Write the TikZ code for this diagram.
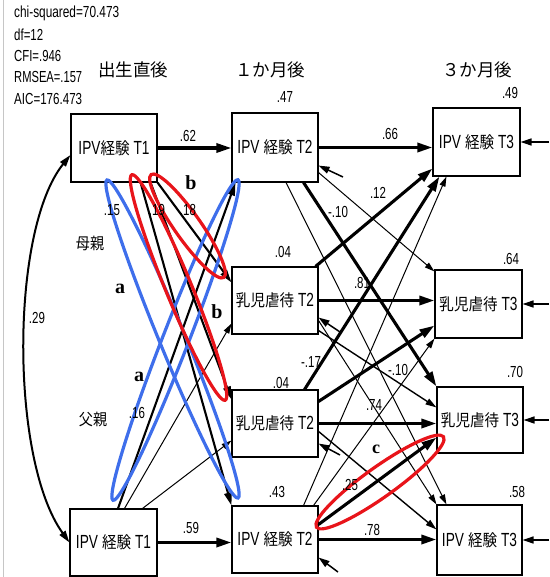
\documentclass[tikz,border=0pt]{standalone}
\usepackage{fontspec}
\setmainfont{Liberation Sans}
\newfontfamily\lat[FakeStretch=0.72]{Liberation Sans}
\newfontfamily\latS{Liberation Sans}
\newfontfamily\cjk[FakeStretch=0.88]{Noto Sans CJK JP}
\newfontfamily\cjkH{Noto Sans CJK JP}
\newfontfamily\ser{Liberation Serif}
\usetikzlibrary{arrows.meta,calc}
\definecolor{blueE}{RGB}{62,110,235}
\definecolor{redE}{RGB}{232,20,26}
\newcommand{\La}[1]{{\lat\fontsize{19}{22}\selectfont #1}}
\newcommand{\Ja}[1]{{\cjk\fontsize{16.5}{20}\selectfont #1}}
\newcommand{\St}[2]{\resizebox{#1}{\height}{#2}}
\begin{document}
\begin{tikzpicture}[x=1pt,y=-1pt,
  box/.style={draw, line width=1.1pt, minimum width=86pt, minimum height=68pt, inner sep=0pt},
  thk/.style={line width=3.1pt, -{Triangle[length=15pt,width=9pt]}},
  med/.style={line width=2.1pt, -{Triangle[length=13pt,width=7.5pt]}},
  mid/.style={line width=1.4pt, -{Triangle[length=11pt,width=6.5pt]}},
  thn/.style={line width=1pt, -{Triangle[length=10pt,width=6pt]}},
  res/.style={line width=1.5pt, -{Triangle[length=11pt,width=7pt]}},
  num/.style={font={\lat\fontsize{16}{18}\selectfont}, inner sep=0pt},
  stat/.style={font={\latS\fontsize{16}{18}\selectfont}, inner sep=0pt, anchor=west},
  head/.style={font={\cjkH\fontsize{17.5}{20}\selectfont}, inner sep=0pt},
  par/.style={font={\cjk\fontsize{16}{20}\selectfont}, inner sep=0pt},
  let/.style={font={\ser\bfseries\fontsize{20}{22}\selectfont}, inner sep=0pt},
  ell/.style={line width=3.2pt}
]
\useasboundingbox (0,0) rectangle (549,577);
\draw[gray!45, line width=0.8pt] (3,0) -- (3,577);

% stats
\node[stat] (s1) at (14,13) {\St{105pt}{chi-squared=70.473}};
\node[stat] (s2) at (14,35) {\St{29pt}{df=12}};
\node[stat] (s3) at (14,56) {\St{47pt}{CFI=.946}};
\node[stat] (s4) at (14,77) {\St{68pt}{RMSEA=.157}};
\node[stat] (s5) at (14,99) {\St{68pt}{AIC=176.473}};

% headers
\node[head] (h1) at (133,70) {出生直後};
\node[head] (h2) at (270,70) {１か月後};
\node[head] (h3) at (477,70) {３か月後};

% boxes
\node[box] (A1) at (114,148) {\La{IPV}\Ja{経験}\hspace{4pt}\La{T1}};
\node[box, minimum width=87pt, minimum height=67pt] (B1) at (113.5,542.5) {\La{IPV}\hspace{4pt}\Ja{経験}\hspace{4pt}\La{T1}};
\node[box, minimum height=69pt] (A2) at (275,147.5) {\La{IPV}\hspace{4pt}\Ja{経験}\hspace{4pt}\La{T2}};
\node[box, minimum height=67pt] (C2) at (275,300.5) {\Ja{乳児虐待}\hspace{4pt}\La{T2}};
\node[box, minimum height=67pt] (D2) at (275,423.5) {\Ja{乳児虐待}\hspace{4pt}\La{T2}};
\node[box, minimum height=67pt] (B2) at (275,539.5) {\La{IPV}\hspace{4pt}\Ja{経験}\hspace{4pt}\La{T2}};
\node[box, minimum width=87pt] (A3) at (476.5,142) {\La{IPV}\hspace{4pt}\Ja{経験}\hspace{4pt}\La{T3}};
\node[box, minimum width=87pt] (C3) at (478.5,304) {\Ja{乳児虐待}\hspace{4pt}\La{T3}};
\node[box, minimum height=66pt] (D3) at (480,420) {\Ja{乳児虐待}\hspace{4pt}\La{T3}};
\node[box, minimum width=85pt, minimum height=70pt] (B3) at (479.5,540) {\La{IPV}\hspace{4pt}\Ja{経験}\hspace{4pt}\La{T3}};

% T1 -> T2
\draw[thk] (A1.east) -- (A1.east -| A2.west);
\draw[thk] (B1.east) -- (B1.east -| B2.west);
\draw[med] (A1.south east) -- ([yshift=-16pt]C2.north west);
\draw[med] ([xshift=-7pt]A1.south east) -- ([yshift=-10pt]D2.north west);
\draw[med] ([xshift=-17pt]A1.south east) -- (B2.north west);
\draw[med] ([xshift=4.5pt]B1.north) -- ([xshift=4pt]A2.south west);
\draw[thn] ([xshift=11pt]B1.north) -- ([yshift=11pt]C2.south west);
\draw[thn] ([xshift=29pt]B1.north) -- ([yshift=17pt]D2.south west);

% double-headed covariance
\draw[line width=2pt, {Triangle[length=12pt,width=7pt]}-{Triangle[length=12pt,width=7pt]}]
  (B1.west) .. controls (10,460) and (10,230) .. ([yshift=-7pt]A1.west);

% T2 -> T3
\draw[thk] (A2.east) -- (A2.east -| A3.west);
\draw[thn] ([yshift=10pt]A2.south east) -- ([yshift=-2pt]C3.north west);
\draw[thk] ([xshift=-15pt]A2.south east) -- (D3.north west);
\draw[thn] ([xshift=11pt]A2.south) -- ([xshift=10pt]B3.north west);

\draw[thk] ([xshift=-3pt]C2.north east) -- ([yshift=8pt]A3.south west);
\draw[thk] (C2.east) -- (C2.east -| C3.west);
\draw[mid] ([yshift=4pt]C2.south east) -- ([yshift=-21pt]D3.north west);
\draw[thn] ([yshift=14pt]C2.south east) -- (B3.north west);

\draw[thk] ([xshift=-14pt]D2.north east) -- ([xshift=7pt]A3.south west);
\draw[thk] ([yshift=-12pt]D2.north east) -- ([yshift=13pt]C3.south west);
\draw[thk] (D2.east) -- (D2.east -| D3.west);
\draw[mid] ([yshift=-42pt]D2.north east) -- ([yshift=-25pt]B3.north west);

\draw[thn] ([xshift=-15pt]B2.north east) -- ([xshift=14pt]A3.south west);
\draw[thn] ([xshift=-5pt]B2.north east) -- (C3.south west);
\draw[thk] ([yshift=-19pt]B2.north east) -- ([yshift=16pt]D3.south west);
\draw[thk] (B2.east) -- (B2.east -| B3.west);

% residuals
\coordinate (rA3) at (549,142);
\coordinate (rC3) at (549,304);
\coordinate (rD3) at (549,420);
\coordinate (rB3) at (549,540);
\draw[res] (rA3) -- (A3.east);
\draw[res] (rC3) -- (C3.east);
\draw[res] (rD3) -- (D3.east);
\draw[res] (rB3) -- (B3.east);
\coordinate (rA2) at (343,177);
\coordinate (rC2) at (340,332);
\coordinate (rD2) at (340,455);
\coordinate (rB2) at (338,572);
\draw[res] (rA2) -- ([yshift=17pt]A2.south east);
\draw[res] (rC2) -- ([yshift=17pt]C2.south east);
\draw[res] (rD2) -- ([yshift=14pt]D2.south east);
\draw[res] (rB2) -- ([yshift=16pt]B2.south east);

% ellipses
\draw[blueE, ell, shift={(172.5,339)}, rotate=-67.6] (0,0) ellipse [x radius=172, y radius=13];
\draw[blueE, ell, shift={(175.5,340)}, rotate=68.7] (0,0) ellipse [x radius=172, y radius=13];
\draw[redE, ell, shift={(187.5,226)}, rotate=-54.8] (0,0) ellipse [x radius=63, y radius=13];
\draw[redE, ell, shift={(178.5,287.5)}, rotate=-67.5] (0,0) ellipse [x radius=122, y radius=13];
\draw[redE, ell, shift={(380,482)}, rotate=35.5] (0,0) ellipse [x radius=78, y radius=15];

% numbers
\node[num] (n47) at (285,97) {.47};
\node[num] (n04a) at (283,252) {.04};
\node[num] (n04b) at (281,383) {.04};
\node[num] (n43) at (277,492) {.43};
\node[num] (n49) at (510,93) {.49};
\node[num] (n64) at (511,259) {.64};
\node[num] (n70) at (515,372) {.70};
\node[num] (n58) at (517,492) {.58};

\node[num] (p62) at (188,136) {.62};
\node[num] (p59) at (191,528) {.59};
\node[num] (p66) at (390,134) {.66};
\node[num] (p12) at (378,193) {.12};
\node[num] (p10a) at (338,212) {-.10};
\node[num] (p81) at (362,283) {.81};
\node[num] (p17) at (311,362) {-.17};
\node[num] (p10b) at (398,370) {-.10};
\node[num] (p74) at (374,405) {.74};
\node[num] (p25) at (350,485) {.25};
\node[num] (p78) at (372,530) {.78};
\node[num] (p15) at (112,210) {.15};
\node[num] (p19) at (157,210) {.19};
\node[num] (p18) at (188,210) {.18};
\node[num] (p16) at (137,413) {.16};
\node[num] (p29) at (37,318) {.29};

\node[par] (mo) at (90,243) {母親};
\node[par] (fa) at (93,419) {父親};

\node[let] (la1) at (120,289) {a};
\node[let] (la2) at (139,377) {a};
\node[let] (lb1) at (191,183) {b};
\node[let] (lb2) at (217,312) {b};
\node[let, font={\ser\bfseries\fontsize{18}{20}\selectfont}] (lc) at (376,449) {c};
\end{tikzpicture}
\end{document}
